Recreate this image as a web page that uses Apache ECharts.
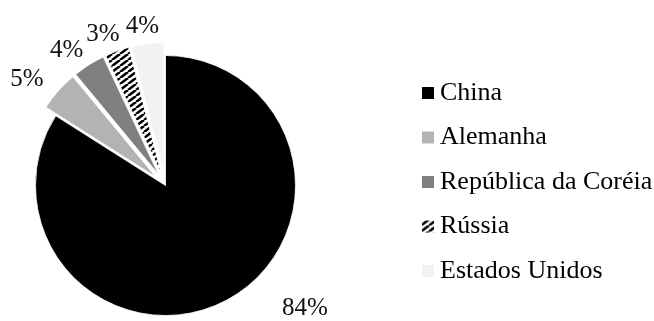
<!DOCTYPE html>
<html>
<head>
<meta charset="utf-8">
<script src="https://cdn.jsdelivr.net/npm/echarts@6/dist/echarts.min.js"></script>
<style>
  html, body { margin: 0; padding: 0; background: #ffffff; }
  #chart { width: 654px; height: 321px; }
</style>
</head>
<body>
<div id="chart"></div>
<script>
// Share of the total, in percent, per country
const countries = ['China', 'Alemanha', 'República da Coréia', 'Rússia', 'Estados Unidos'];
const shares = [84, 5, 4, 3, 4];
// which slices are pulled out of the pie
const pulledOut = [false, true, true, true, true];

// Slice fills (Rússia uses a striped pattern, built below)
const fills = ['#000000', '#b3b3b3', '#808080', null, '#f2f2f2'];

const PIE_CENTER = [165.5, 185.5];
const PIE_R = 130;
const EXPLODE = 13;
const FONT = 'Liberation Serif, Times New Roman, serif';

function stripePattern() {
  const c = document.createElement('canvas');
  c.width = 8; c.height = 6;
  const g = c.getContext('2d');
  g.fillStyle = '#ffffff';
  g.fillRect(0, 0, 8, 6);
  g.strokeStyle = '#000000';
  g.lineWidth = 2.6;
  g.beginPath();
  for (let k = -1; k <= 1; k++) { g.moveTo(k * 8, 6); g.lineTo(k * 8 + 8, 0); }
  g.stroke();
  return c;
}
const stripes = { image: stripePattern(), repeat: 'repeat' };
const colorOf = i => (fills[i] === null ? stripes : fills[i]);

const rad = d => d * Math.PI / 180;
const total = shares.reduce((a, b) => a + b, 0);

// mid angle of each slice, degrees clockwise from 12 o'clock
const mids = [];
let acc = 0;
shares.forEach(v => { mids.push((acc + v / 2) / total * 360); acc += v; });

// each slice gets its own pie centre, pushed out along its mid angle
const centers = mids.map((m, i) => {
  const off = pulledOut[i] ? EXPLODE : 0;
  return [PIE_CENTER[0] + Math.sin(rad(m)) * off, PIE_CENTER[1] - Math.cos(rad(m)) * off];
});

// the big slice's label sits lower right, away from its mid angle
const CHINA_LABEL = { angle: 131.5, reach: 186 };

function labelPlacer(i) {
  return function (p) {
    const w = p.labelRect.width, h = p.labelRect.height;
    const c = centers[i];
    if (i === 0) {
      const a = rad(CHINA_LABEL.angle);
      return {
        x: c[0] + Math.sin(a) * CHINA_LABEL.reach,
        y: c[1] - Math.cos(a) * CHINA_LABEL.reach,
        align: 'center', verticalAlign: 'middle'
      };
    }
    const a = rad(mids[i]);
    return {
      x: c[0] + Math.sin(a) * (PIE_R + 10 + w * 0.95),
      y: c[1] - Math.cos(a) * (PIE_R + 10 + h * 0.3),
      align: 'center', verticalAlign: 'middle'
    };
  };
}

const hidden = { color: 'transparent', borderWidth: 0 };

// one pie per country so each slice can sit on its own centre;
// the other slices of that pie only keep the angles in place
const series = countries.map((name, i) => ({
  type: 'pie',
  center: centers[i],
  radius: PIE_R,
  startAngle: 90,
  clockwise: true,
  silent: true,
  avoidLabelOverlap: false,
  itemStyle: { borderColor: '#ffffff', borderWidth: 0.8 },
  label: {
    show: true,
    position: 'outside',
    formatter: p => p.value + '%',
    fontFamily: FONT,
    fontSize: 25,
    color: '#111111'
  },
  labelLine: { show: false },
  labelLayout: labelPlacer(i),
  data: shares.map((v, j) => (j === i
    ? { name: name, value: v, itemStyle: { color: colorOf(j) } }
    : { name: '_' + j, value: v, itemStyle: hidden, label: { show: false } }))
}));

const chart = echarts.init(document.getElementById('chart'), null, { renderer: 'canvas' });
chart.setOption({
  animation: false,
  backgroundColor: '#ffffff',
  legend: {
    orient: 'vertical',
    left: 415,
    top: 73,
    icon: 'rect',
    itemWidth: 14,
    itemHeight: 14,
    itemGap: 14.5,
    selectedMode: false,
    data: countries,
    textStyle: { fontFamily: FONT, fontSize: 26, color: '#000000', lineHeight: 30 }
  },
  series: series
});
</script>
</body>
</html>
